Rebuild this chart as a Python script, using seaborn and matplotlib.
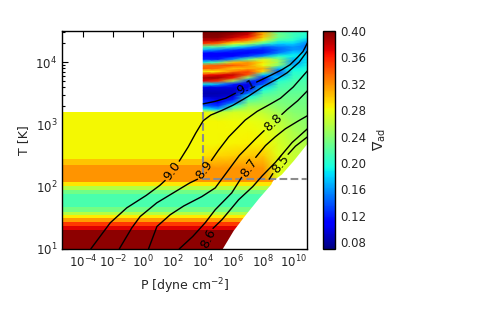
import matplotlib
matplotlib.use("Agg")
import matplotlib.pyplot as plt
import matplotlib.ticker as mticker
import numpy as np
import seaborn as sns

# ---- data (log10 P in dyne cm^-2, log10 T in K) ----
# cold table: nabla_ad only depends on T, bands in log T
cold_logT_edges = [1.0, 1.30, 1.37, 1.43, 1.49, 1.54, 1.60, 1.68, 1.88, 1.95,
                   2.01, 2.07, 2.13, 2.34, 2.45, 3.2]
cold_nabla = [0.395, 0.372, 0.35, 0.316, 0.287, 0.258, 0.232, 0.215, 0.23,
              0.258, 0.29, 0.318, 0.318, 0.302, 0.283]
cold_logP_edges = [-5.5, 4.0, 11.0]
seam_logT = 2.13

# hot table: nabla_ad read at pressure columns log P = 4 ... 11
hot_logP = [4.0, 5.0, 6.0, 7.0, 8.0, 9.0, 10.0, 11.0]
hot_logT = [2.13, 2.30, 2.50, 2.70, 2.90, 3.05, 3.20, 3.25, 3.30, 3.35, 3.40,
            3.45, 3.50, 3.55, 3.60, 3.65, 3.70, 3.75, 3.80, 3.85, 3.90, 3.95,
            4.00, 4.05, 4.10, 4.15, 4.20, 4.25, 4.30, 4.35, 4.40, 4.45, 4.50, 4.55]
hot_P4 = [0.318, 0.318, 0.29, 0.283, 0.283, 0.283,
          0.283, 0.19, 0.14, 0.13, 0.12, 0.09, 0.085, 0.09, 0.10, 0.19, 0.37, 0.39, 0.36, 0.28,
          0.34, 0.33, 0.19, 0.12, 0.11, 0.11, 0.17, 0.22, 0.35, 0.38, 0.395, 0.40, 0.40, 0.40]
hot_P5 = [0.318, 0.318, 0.295, 0.283, 0.283, 0.283,
          0.26, 0.17, 0.13, 0.11, 0.10, 0.09, 0.085, 0.09, 0.10, 0.17, 0.35, 0.39, 0.37, 0.29,
          0.33, 0.34, 0.22, 0.12, 0.11, 0.11, 0.15, 0.22, 0.33, 0.38, 0.395, 0.40, 0.40, 0.40]
hot_P6 = [0.318, 0.318, 0.298, 0.285, 0.283, 0.282,
          0.27, 0.24, 0.20, 0.15, 0.12, 0.10, 0.09, 0.09, 0.10, 0.12, 0.25, 0.36, 0.38, 0.33,
          0.30, 0.34, 0.30, 0.16, 0.11, 0.11, 0.13, 0.20, 0.28, 0.35, 0.38, 0.39, 0.40, 0.40]
hot_P7 = [0.318, 0.318, 0.30, 0.286, 0.283, 0.28,
          0.268, 0.26, 0.25, 0.235, 0.215, 0.19, 0.15, 0.12, 0.10, 0.10, 0.13, 0.24, 0.34, 0.35,
          0.31, 0.32, 0.32, 0.22, 0.13, 0.11, 0.12, 0.17, 0.26, 0.32, 0.36, 0.38, 0.38, 0.38]
hot_P8 = [0.318, 0.318, 0.30, 0.285, 0.28, 0.275,
          0.262, 0.255, 0.248, 0.24, 0.233, 0.226, 0.215, 0.20, 0.18, 0.14, 0.12, 0.12, 0.18, 0.29,
          0.31, 0.28, 0.29, 0.27, 0.16, 0.12, 0.12, 0.14, 0.21, 0.27, 0.30, 0.31, 0.31, 0.31]
hot_P9 = [0.275, 0.275, 0.275, 0.272, 0.268, 0.262,
          0.25, 0.244, 0.24, 0.236, 0.232, 0.228, 0.224, 0.22, 0.215, 0.21, 0.20, 0.18, 0.15, 0.14,
          0.17, 0.24, 0.25, 0.24, 0.20, 0.15, 0.14, 0.15, 0.18, 0.21, 0.23, 0.23, 0.22, 0.22]
hot_P10 = [0.268, 0.268, 0.265, 0.26, 0.254, 0.248,
           0.24, 0.237, 0.234, 0.232, 0.23, 0.228, 0.225, 0.222, 0.22, 0.217, 0.214, 0.21, 0.205,
           0.20, 0.19, 0.17, 0.16, 0.17, 0.19, 0.18, 0.16, 0.16, 0.18, 0.20, 0.21, 0.21, 0.21, 0.21]
hot_P11 = [0.262, 0.262, 0.26, 0.255, 0.245, 0.24,
           0.236, 0.235, 0.233, 0.232, 0.23, 0.228, 0.225, 0.222, 0.22, 0.218, 0.215, 0.21, 0.205,
           0.20, 0.198, 0.195, 0.19, 0.185, 0.18, 0.17, 0.16, 0.15, 0.15, 0.17, 0.19, 0.20, 0.20, 0.20]

# edge of the table (no data below / right of it)
edge_logP = [5.25, 6.0, 6.7, 7.7, 8.5, 8.62, 9.2, 10.0, 11.2]
edge_logT = [1.0, 1.3, 1.52, 1.82, 2.04, 2.1, 2.2, 2.42, 2.78]

# borders between the tables (dashed)
border_logP = [4.0, 4.0, 11.0]
border_logT = [3.2, 2.13, 2.13]

# entropy contours: line before label, label position, line after label
contours = {
    "8.5": ([(8.4, 2.12), (8.64, 2.21)], (9.15, 2.37),
            [(9.66, 2.52), (10.15, 2.65), (10.95, 2.80)]),
    "8.6": ([], (4.33, 1.17),
            [(4.65, 1.33), (5.25, 1.47), (6.36, 1.79), (7.3, 2.0), (7.92, 2.17),
             (8.81, 2.39), (9.93, 2.71), (10.95, 2.93)]),
    "8.7": ([(2.4, 1.0), (3.3, 1.2), (4.13, 1.42), (4.8, 1.63), (5.9, 1.9), (6.56, 2.15)],
            (7.03, 2.31),
            [(7.5, 2.47), (8.15, 2.66), (8.8, 2.8), (9.48, 2.93), (10.3, 3.05), (10.95, 3.14)]),
    "8.8": ([(0.35, 1.0), (0.91, 1.36), (1.8, 1.55), (2.7, 1.69), (3.9, 1.84), (4.8, 1.98),
             (5.6, 2.24), (6.4, 2.5), (7.5, 2.77), (8.06, 2.9)],
            (8.65, 3.03),
            [(9.24, 3.16), (9.6, 3.24), (10.3, 3.38), (10.95, 3.54)]),
    "8.9": ([(-1.6, 1.0), (-0.76, 1.34), (-0.21, 1.52), (0.9, 1.74), (2.0, 1.9),
             (3.1, 2.06), (3.62, 2.12)],
            (4.08, 2.27),
            [(4.54, 2.42), (5.0, 2.58), (5.7, 2.8), (6.8, 3.07), (7.6, 3.21), (8.5, 3.33),
             (9.15, 3.42), (10.0, 3.6), (10.95, 3.86)]),
    "9.0": ([(-3.5, 1.0), (-2.2, 1.42), (-1.1, 1.66), (0.2, 1.86), (1.1, 2.02), (1.46, 2.10)],
            (1.93, 2.25),
            [(2.40, 2.41), (3.0, 2.64), (3.5, 2.86), (4.0, 3.06), (4.5, 3.15), (5.2, 3.22),
             (6.0, 3.31), (7.0, 3.45), (8.0, 3.61), (9.0, 3.74), (9.6, 3.83), (10.4, 4.0),
             (10.95, 4.18)]),
    "9.1": ([(4.0, 3.33), (4.8, 3.37), (5.5, 3.42), (6.14, 3.50)],
            (6.85, 3.59),
            [(7.56, 3.68), (8.0, 3.73), (8.6, 3.80), (9.26, 3.88), (9.8, 3.96), (10.3, 4.08),
             (10.65, 4.17), (10.95, 4.31)]),
}

p_ticks = [-4, -2, 0, 2, 4, 6, 8, 10]
cbar_ticks = [0.08, 0.12, 0.16, 0.20, 0.24, 0.28, 0.32, 0.36, 0.40]

# ---- style ----
sns.set_style("ticks", {"xtick.direction": "in", "ytick.direction": "in",
                        "axes.edgecolor": "black"})
plt.rcParams["font.family"] = ["DejaVu Sans"]
plt.rcParams["mathtext.fontset"] = "dejavusans"

fig = plt.figure(figsize=(5, 3.1), dpi=100)
ax = fig.add_axes([0.124, 0.197, 0.49, 0.703])
cax = fig.add_axes([0.646, 0.197, 0.024, 0.703])

cmap = matplotlib.colormaps["jet"]
norm = plt.Normalize(0.07, 0.40)

ax.set_xscale("log")
ax.set_yscale("log")

# cold table (single column left of P=1e4, continues right below the seam)
t_edges = np.array(cold_logT_edges)
t_mid = 0.5 * (t_edges[:-1] + t_edges[1:])
cold = np.array(cold_nabla)
cold_grid = np.ma.masked_invalid(np.column_stack([cold, np.where(t_mid < seam_logT, cold, np.nan)]))
mesh = ax.pcolormesh(10.0 ** np.array(cold_logP_edges), 10.0 ** t_edges, cold_grid,
                     cmap=cmap, norm=norm, shading="flat", linewidth=0, antialiased=False)

# hot table
hot = np.column_stack([hot_P4, hot_P5, hot_P6, hot_P7, hot_P8, hot_P9, hot_P10, hot_P11])
PP, TT = np.meshgrid(10.0 ** np.array(hot_logP), 10.0 ** np.array(hot_logT))
ax.pcolormesh(PP, TT, hot, cmap=cmap, norm=norm, shading="gouraud",
              linewidth=0, antialiased=False)

# blank out region outside the table
ax.fill_between(10.0 ** np.array(edge_logP), 10.0 ** 0.9, 10.0 ** np.array(edge_logT),
                color="white", lw=0, zorder=2)

ax.plot(10.0 ** np.array(border_logP), 10.0 ** np.array(border_logT),
        ls="--", color="0.55", lw=1.5, zorder=3)

ax.set_xlim(10.0 ** -5.42, 10.0 ** 10.92)
ax.set_ylim(10.0, 10.0 ** 4.5)

# contour lines with labels
for text, (before, lab, after) in contours.items():
    for seg in (before, after):
        if seg:
            seg = np.array(seg)
            ax.plot(10.0 ** seg[:, 0], 10.0 ** seg[:, 1], color="black", lw=1.0, zorder=4)
    a = before[-1] if before else lab
    b = after[0]
    pa = ax.transData.transform((10.0 ** a[0], 10.0 ** a[1]))
    pb = ax.transData.transform((10.0 ** b[0], 10.0 ** b[1]))
    ang = np.degrees(np.arctan2(pb[1] - pa[1], pb[0] - pa[0]))
    ax.text(10.0 ** lab[0], 10.0 ** lab[1], text, rotation=ang, rotation_mode="anchor",
            ha="center", va="center", fontsize=9, color="black", zorder=5)

ax.set_xticks(10.0 ** np.array(p_ticks))
ax.xaxis.set_minor_locator(mticker.NullLocator())
ax.tick_params(which="both", direction="in", top=True, right=True, color="black",
               labelsize=8.5, width=0.8)
ax.tick_params(which="major", length=4)
ax.tick_params(which="minor", length=2)
for s in ax.spines.values():
    s.set_color("black")
    s.set_linewidth(1.0)

ax.set_xlabel(r"P [dyne cm$^{-2}$]", fontsize=9)
ax.set_ylabel("T [K]", fontsize=9)

cbar = fig.colorbar(mesh, cax=cax, ticks=cbar_ticks)
cbar.ax.yaxis.set_major_formatter(mticker.FormatStrFormatter("%.2f"))
cbar.ax.tick_params(labelsize=8.5, direction="in", length=3, color="black")
cbar.outline.set_edgecolor("black")
cbar.outline.set_linewidth(1.0)
cbar.set_label(r"$\nabla_{\rm ad}$", fontsize=10, labelpad=3)

fig.savefig("out.png", dpi=100, facecolor="white")
